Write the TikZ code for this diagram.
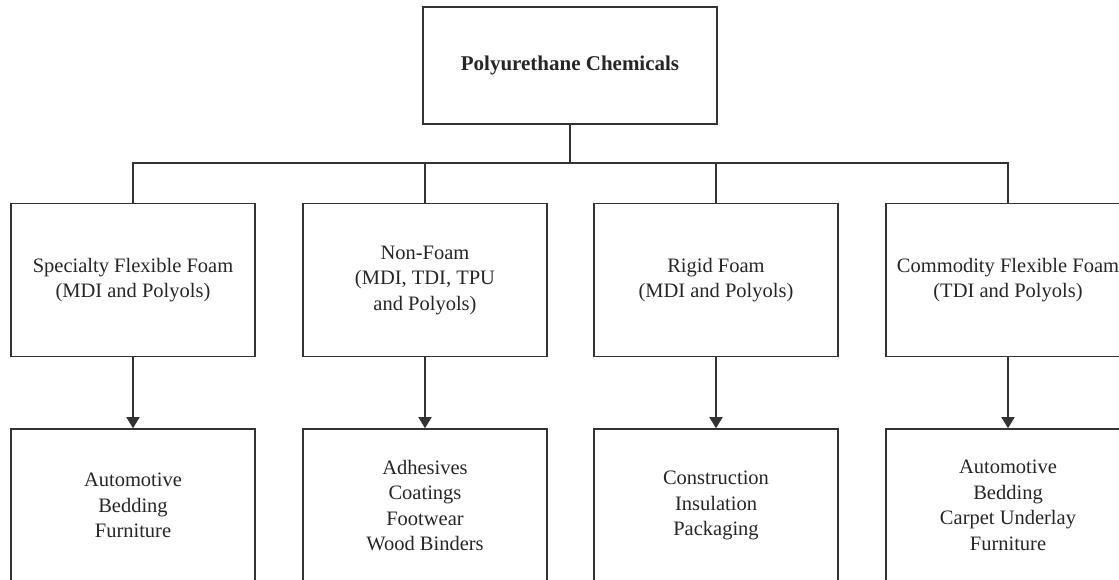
\documentclass[tikz,border=0pt]{standalone}
\usepackage{fontspec}
\setmainfont{Liberation Serif}
\usetikzlibrary{arrows.meta}

\begin{document}
\begin{tikzpicture}[x=1pt, y=-1pt,
    box/.style={draw=black!80, line width=1.6pt, align=center, text=black!85,
        font=\fontsize{20.5}{25.5}\selectfont, inner sep=2pt},
    midbox/.style={box, minimum width=244pt, minimum height=153pt},
    link/.style={draw=black!80, line width=1.6pt},
    arrow/.style={link, -{Triangle[width=13pt,length=11pt]}}]
    \useasboundingbox (0,0) rectangle (1119,579);

    % top of the tree
    \node[box, minimum width=294pt, minimum height=117pt, font=\fontsize{21}{25.5}\selectfont\bfseries]
        (chem) at (570,65.5) {Polyurethane Chemicals};
    \coordinate (bus) at (570,163);

    % foam types
    \node[midbox] (spec) at (133,280) {Specialty Flexible Foam\\(MDI and Polyols)};
    \node[midbox] (nonfoam) at (425,280) {Non-Foam\\(MDI, TDI, TPU\\and Polyols)};
    \node[midbox] (rigid) at (716,280) {Rigid Foam\\(MDI and Polyols)};
    \node[midbox] (commod) at (1008,280) {Commodity Flexible Foam\\(TDI and Polyols)};

    % end uses
    \node[midbox] (specuse) at (133,505.5) {Automotive\\Bedding\\Furniture};
    \node[midbox] (nonfoamuse) at (425,505.5) {Adhesives\\Coatings\\Footwear\\Wood Binders};
    \node[midbox] (rigiduse) at (716,505.5) {Construction\\Insulation\\Packaging};
    \node[midbox] (commoduse) at (1008,505.5) {Automotive\\Bedding\\Carpet Underlay\\Furniture};

    \draw[link] (chem.south) -- (bus);
    \draw[link] (spec.north) -- (spec.north |- bus) -- (commod.north |- bus) -- (commod.north);
    \draw[link] (nonfoam.north) -- (nonfoam.north |- bus);
    \draw[link] (rigid.north) -- (rigid.north |- bus);

    \draw[arrow] (spec.south) -- (specuse.north);
    \draw[arrow] (nonfoam.south) -- (nonfoamuse.north);
    \draw[arrow] (rigid.south) -- (rigiduse.north);
    \draw[arrow] (commod.south) -- (commoduse.north);
\end{tikzpicture}
\end{document}
